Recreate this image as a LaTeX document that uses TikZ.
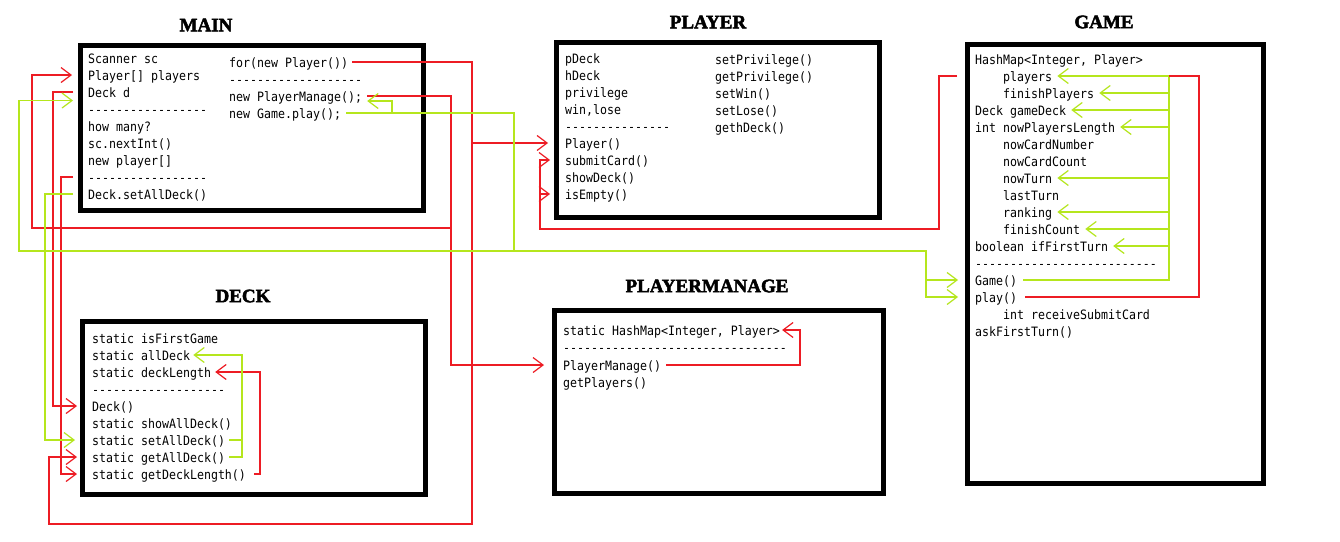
\documentclass[tikz,border=0pt]{standalone}
\usepackage{fontspec}
\newfontfamily\codefont[FakeStretch=0.9, Ligatures=TeXOff]{DejaVu Sans Mono}
\newfontfamily\titlefont[FakeBold=2.5]{Liberation Serif}
\usetikzlibrary{arrows.meta, calc}
\definecolor{lnred}{HTML}{ED1C24}
\definecolor{lnlime}{HTML}{B5E61D}
\newcommand\ind{\hspace*{28pt}}
\tikzset{
  cls/.style={draw=black, line width=5pt, outer sep=0pt, inner sep=0pt},
  ttl/.style={font=\titlefont\bfseries\fontsize{19}{19}\selectfont},
  txt/.style={anchor=west, inner sep=0pt, text height=10pt, text depth=0pt,
    font=\codefont\fontsize{12.9}{15}\selectfont},
  wire/.style={line width=1.2pt},
  rw/.style={wire, draw=lnred},
  lw/.style={wire, draw=lnlime},
  tip/.style={-{Straight Barb[length=10pt, width=15pt]}},
}

\begin{document}
\begin{tikzpicture}[x=1pt, y=-1pt]
\fill[white] (0,0) rectangle (1340,541);
\useasboundingbox (0,0) rectangle (1340,541);

% Class boxes
\node[cls, minimum width=343pt, minimum height=165pt] (mainBox) at (252,128) {};
\node[cls, minimum width=323pt, minimum height=175pt] (playerBox) at (718,130) {};
\node[cls, minimum width=296pt, minimum height=439pt] (gameBox) at (1115.5,264) {};
\node[cls, minimum width=343pt, minimum height=173pt] (deckBox) at (254,408) {};
\node[cls, minimum width=329pt, minimum height=183pt] (pmBox) at (719,402) {};

% Titles
\node[ttl] (mainTtl) at (206,25) {MAIN};
\node[ttl] (playerTtl) at (708,22) {PLAYER};
\node[ttl] (gameTtl) at (1104,22) {GAME};
\node[ttl] (deckTtl) at (243,296) {DECK};
\node[ttl] (pmTtl) at (707,286) {PLAYERMANAGE};

% MAIN members
\foreach \t [count=\i] in {Scanner sc, Player[] players, Deck d, -----------------,
    how many?, sc.nextInt(), new player[], -----------------, Deck.setAllDeck()}
  \node[txt] (m\i) at (88, 41+17*\i) {\t};
\foreach \t [count=\i] in {for(new Player()), -------------------,
    new PlayerManage();, new Game.play();}
  \node[txt] (n\i) at (229, 45+17*\i) {\t};

% PLAYER members
\foreach \t [count=\i] in {pDeck, hDeck, privilege, {win,lose}, ---------------,
    Player(), submitCard(), showDeck(), isEmpty()}
  \node[txt] (p\i) at (565, 41+17*\i) {\t};
\foreach \t [count=\i] in {setPrivilege(), getPrivilege(), setWin(), setLose(), gethDeck()}
  \node[txt] (pr\i) at (715, 42+17*\i) {\t};

% GAME members
\foreach \t [count=\i] in {{HashMap<Integer, Player>}, \ind players, \ind finishPlayers,
    Deck gameDeck, int nowPlayersLength, \ind nowCardNumber, \ind nowCardCount,
    \ind nowTurn, \ind lastTurn, \ind ranking, \ind finishCount, boolean ifFirstTurn,
    --------------------------, Game(), play(), \ind int receiveSubmitCard, askFirstTurn()}
  \node[txt] (g\i) at (975, 42+17*\i) {\t};

% DECK members
\foreach \t [count=\i] in {static isFirstGame, static allDeck, static deckLength,
    -------------------, Deck(), static showAllDeck(), static setAllDeck(),
    static getAllDeck(), static getDeckLength()}
  \node[txt] (d\i) at (92, 321+17*\i) {\t};

% PLAYERMANAGE members
\node[txt] (q1) at (563,330) {static HashMap<Integer, Player>};
\node[txt] (q2) at (563,347) {--------------------------------};
\node[txt] (q3) at (563,365) {PlayerManage()};
\node[txt] (q4) at (563,382) {getPlayers()};

% Wire columns and rows
\coordinate (busGm) at (19,0);
\coordinate (busArr) at (32,0);
\coordinate (busSet) at (45,0);
\coordinate (busGet) at (49,0);
\coordinate (busDk) at (53,0);
\coordinate (busLen) at (61,0);
\coordinate (busDA) at (242,0);
\coordinate (busDL) at (260,0);
\coordinate (busBk) at (392,0);
\coordinate (busPm) at (451,0);
\coordinate (busPl) at (472,0);
\coordinate (busPlay) at (514,0);
\coordinate (busCard) at (540,0);
\coordinate (busMap) at (800,0);
\coordinate (busGame) at (926,0);
\coordinate (busIn) at (939,0);
\coordinate (gIn) at (957,0);
\coordinate (busAttr) at (1169,0);
\coordinate (busRun) at (1199,0);
\coordinate (rowArr) at (0,228);
\coordinate (rowCard) at (0,229);
\coordinate (rowLime) at (0,251);
\coordinate (rowBot) at (0,524);
\coordinate (mGap) at ($(m3.west)!0.5!(m4.west)$);

% MAIN -> PLAYER, DECK, PLAYERMANAGE (red)
\draw[rw, tip, shorten <=4pt, shorten >=17pt] (n1.east) -| (busPl |- p6.west) -- (p6.west);
\draw[rw, tip, shorten >=15pt] (busPl |- p6.west) -- (busPl |- rowBot) -| (busGet |- d8.west) -- (d8.west);
\draw[rw, tip, shorten <=5pt, shorten >=19pt] (n3.east) -| (busPm |- q3.west) -- (q3.west);
\draw[rw, tip, shorten >=16pt] (busPm |- rowArr) -| (busArr |- m2.west) -- (m2.west);
\draw[rw, tip, shorten <=15pt, shorten >=15pt] (m3.west) -| (busDk |- d5.west) -- (d5.west);
\draw[rw, tip, shorten <=15pt, shorten >=15pt] (m8.west) -| (busLen |- d9.west) -- (d9.west);

% MAIN -> DECK, GAME (lime)
\draw[lw, tip, shorten <=15pt, shorten >=17pt] (m9.west) -| (busSet |- d7.west) -- (d7.west);
\draw[lw, tip, shorten <=5pt, shorten >=15pt] (n4.east) -| (busPlay |- rowLime) -| (busGm |- mGap) -- (mGap);
\draw[lw, tip, shorten >=17pt] (busPlay |- rowLime) -| (busGame |- g14.west) -- (g14.west);
\draw[lw, tip, shorten >=17pt] (busGame |- g14.west) |- (g15.west);
\draw[lw, tip, shorten >=5pt] (busBk |- n4.east) |- ([yshift=-5pt]n3.east);

% DECK internals
\draw[rw, tip, shorten <=8pt, shorten >=4pt] (d9.east) -| (busDL |- d3.east) -- (d3.east);
\draw[lw, tip, shorten <=4pt, shorten >=3pt] (d7.east) -| (busDA |- d2.east) -- (d2.east);
\draw[lw, shorten <=4pt] (d8.east) -- (busDA |- d8.east) -- (busDA |- d7.east);

% PLAYERMANAGE internals
\draw[rw, tip, shorten <=5pt, shorten >=2pt] (q3.east) -| (busMap |- q1.east) -- (q1.east);

% GAME internals
\draw[lw, tip, shorten <=6pt, shorten >=5pt] (g14.east) -| (busAttr |- g2.east) -- (g2.east);
\foreach \n in {g3, g4, g5, g8, g10, g11, g12}
  \draw[lw, tip, shorten >=5pt] (busAttr |- \n.east) -- (\n.east);
\draw[rw, shorten <=8pt] (g15.east) -| (busRun |- g2.east) -- (busAttr |- g2.east);

% GAME -> PLAYER (red)
\draw[rw, tip, shorten >=15pt] (gIn |- g2.west) -| (busIn |- rowCard) -| (busCard |- p7.west) -- (p7.west);
\draw[rw, tip, shorten >=15pt] (busCard |- p9.west) -- (p9.west);

\end{tikzpicture}
\end{document}
